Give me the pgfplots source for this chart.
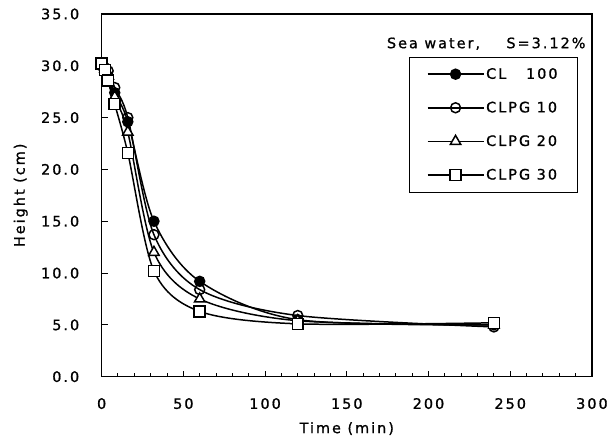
\documentclass[border=0pt]{standalone}
\usepackage{pgfplots}
\pgfplotsset{compat=1.18}
\usepackage{fontspec}
\setmainfont{DejaVu Sans}[LetterSpace=14, FakeBold=1]

% settling height of the mud column, sea water
\pgfplotstableread{
t     cl    g10   g20   g30
0     30.0  30.0  30.0  30.2
2     29.8  29.8  29.7  29.6
4     29.0  29.5  29.0  28.6
8     27.4  27.9  27.0  26.3
16    24.6  25.0  23.6  21.6
32    15.0  13.7  12.0  10.2
60    9.2   8.4   7.5   6.3
120   5.5   5.9   5.4   5.1
240   5.0   4.8   5.0   5.2
}\settling

\newcommand\lbl{\fontsize{14.5}{17}\selectfont}

\begin{document}
\begin{tikzpicture}
\begin{axis}[
  scale only axis, width=492bp, height=364bp,
  xmin=0, xmax=300, ymin=0, ymax=35,
  xtick distance=50, ytick distance=5, minor x tick num=4,
  tick pos=left, tick align=inside,
  major tick length=6bp, minor tick length=4bp,
  axis line style={line width=1.6bp},
  every tick/.style={black, line width=1bp},
  tick label style={font=\lbl},
  label style={font=\lbl},
  /pgf/number format/assume math mode=true,
  yticklabel style={xshift=-19bp, /pgf/number format/.cd, fixed, fixed zerofill, precision=1},
  xticklabel style={yshift=-18bp},
  xlabel={Time (min)}, ylabel={Height (cm)},
  xlabel style={at={(axis description cs:0.5,-0.143)}, anchor=center},
  ylabel style={at={(axis description cs:-0.165,0.5)}, anchor=center},
  legend cell align=left,
  legend style={at={(0.626,0.882)}, anchor=north west, draw=black, line width=0.8bp,
    inner xsep=18bp, inner ysep=9bp, row sep=17.5bp, font=\lbl},
  legend image code/.code={\draw[mark repeat=2, mark phase=2, line width=1.5bp]
    plot coordinates {(0bp,0bp) (28bp,0bp) (56bp,0bp)};},
  every axis plot/.append style={black, line width=1.5bp, smooth},
]
\addplot[mark=*, mark size=5bp, mark options={fill=black}] table[x=t, y=cl] {\settling};
\addplot[mark=o, mark size=5bp, mark options={fill=white}] table[x=t, y=g10] {\settling};
\addplot[mark=triangle*, mark size=6bp, mark options={fill=white}] table[x=t, y=g20] {\settling};
\addplot[mark=square*, mark size=5.5bp, mark options={fill=white}] table[x=t, y=g30] {\settling};
\legend{CL\ \ \ 100, CLPG 10, CLPG 20, CLPG 30}
\node[anchor=east, font=\lbl] at (rel axis cs:0.994,0.918) {Sea water,\ \ \ \ S=3.12\%};
\end{axis}
\path ([shift={(-102bp,-65bp)}]current axis.south west) rectangle ([shift={(17bp,14bp)}]current axis.north east);
\end{tikzpicture}
\end{document}
